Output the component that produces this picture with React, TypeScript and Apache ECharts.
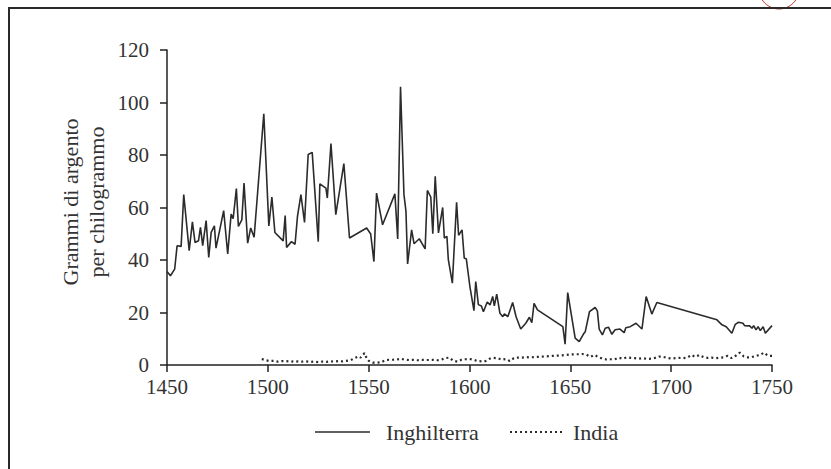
import React, { useEffect, useRef } from "react";
import * as echarts from "echarts";

const englandYears = [
  1450, 1451.7, 1453.8, 1455, 1457, 1458.3, 1461, 1462.6, 1463.9, 1465.6, 1466.6, 1467.7, 1469.4, 1470.7,
  1471.9, 1473.5, 1474.3, 1478.1, 1480.1, 1481.8, 1482.8, 1484.4, 1485.4, 1487.1, 1488.2, 1490, 1491.5,
  1493.2, 1498, 1500.5, 1502, 1503.5, 1507.6, 1508.6, 1509.3, 1511.7, 1513.5, 1514.7, 1516.4, 1518.2, 1520,
  1522, 1525, 1525.8, 1528.8, 1529.5, 1531.3, 1533.7, 1537.7, 1540.5, 1549, 1551, 1552.6, 1553.9, 1556.9,
  1563, 1564.4, 1565.8, 1567.5, 1568.5, 1569.3, 1571.3, 1572.5, 1575.1, 1578, 1579.1, 1580.8, 1581.8, 1583,
  1584.6, 1586.7, 1587.5, 1588.8, 1589.5, 1591.5, 1593.6, 1594.6, 1596.3, 1597.4, 1598.4, 1600.2, 1602.2,
  1603.1, 1604.4, 1605.9, 1606.9, 1608.8, 1610.2, 1611.5, 1612.3, 1613.5, 1615.1, 1616.5, 1617.3, 1619,
  1621.4, 1623.1, 1625.4, 1627.9, 1629.7, 1630.9, 1632, 1633.7, 1646.3, 1647.4, 1648.7, 1652.4, 1654.4,
  1656.5, 1657.4, 1659.5, 1662.3, 1663.4, 1664.3, 1665.9, 1667.3, 1668.9, 1670.6, 1672.2, 1674.6, 1676.7,
  1677.5, 1679.7, 1682.6, 1685.5, 1687.6, 1690.4, 1692.9, 1722.7, 1725.2, 1727.3, 1730.1, 1731.8, 1733.4,
  1735.6, 1736.4, 1738.9, 1740.1, 1740.9, 1742.1, 1743.1, 1744.2, 1745.6, 1746.7, 1750,
];
const englandValues = [
  35.6, 34, 36.5, 45.4, 45.2, 64.9, 43.6, 54.5, 46.7, 47.3, 52.4, 45.5, 55, 41,
  50.5, 53, 44.5, 58.8, 42.3, 57.5, 55.7, 67.2, 52.8, 55.3, 69.3, 46.4, 52.2,
  48.7, 95.7, 53, 64, 50.5, 47.3, 56.9, 44.8, 47, 46, 56.6, 64.9, 54.3, 80.2,
  81, 47, 69, 67.4, 63.6, 84.4, 57.3, 76.7, 48.4, 52.2, 49.9, 39.4, 65.5, 53.4,
  65.2, 48, 106, 64.9, 58.5, 38.5, 51.5, 46.2, 48.1, 44.2, 66.5, 64, 50, 71.9,
  50.3, 60, 48.4, 49, 40.1, 31.2, 62, 49.4, 51.5, 40.7, 40.5, 29.9, 20.7,
  31.8, 23, 22.5, 20.3, 24, 22.9, 26.1, 22.5, 27, 19.7, 18.4, 19.5, 18.4,
  23.8, 18.4, 13.7, 15.9, 18.2, 16.1, 23.5, 21, 14.6, 7.9, 27.6, 10.2, 8.9,
  11.8, 12.7, 20.3, 21.9, 20.6, 13.7, 11.5, 14, 14.4, 11.7, 13.4, 13.7, 12.3,
  14.2, 14.6, 15.9, 13.7, 26.1, 19.4, 23.8, 17.2, 15.3, 14.6, 12.1, 15.5, 16.3,
  15.9, 15, 14.9, 14, 15, 13.4, 14.6, 13.1, 14.6, 12.1, 15,
];

const indiaYears = [
  1497, 1499, 1501, 1503, 1505, 1507, 1509, 1511, 1513, 1515, 1517, 1519, 1521, 1523, 1525, 1527, 1529,
  1531, 1533, 1535, 1537, 1539, 1541, 1543, 1545, 1546, 1547, 1548, 1549, 1550, 1552, 1554, 1556, 1558,
  1560, 1562, 1564, 1566, 1568, 1570, 1572, 1574, 1576, 1578, 1580, 1582, 1584, 1586, 1588, 1590, 1592,
  1594, 1596, 1598, 1600, 1602, 1604, 1606, 1608, 1610, 1612, 1614, 1616, 1618, 1620, 1622, 1624, 1626,
  1628, 1630, 1632, 1634, 1636, 1638, 1640, 1642, 1644, 1646, 1648, 1650, 1652, 1654, 1656, 1658, 1660,
  1662, 1664, 1666, 1668, 1670, 1672, 1674, 1676, 1678, 1680, 1682, 1684, 1686, 1688, 1690, 1692, 1694,
  1696, 1698, 1700, 1702, 1704, 1706, 1708, 1710, 1712, 1714, 1716, 1718, 1720, 1722, 1724, 1726, 1728,
  1730, 1732, 1734, 1736, 1738, 1740, 1742, 1744, 1746, 1748, 1750,
];
const indiaValues = [
  2.3, 1.8, 1.5, 1.6, 1.3, 1.5, 1.4, 1.5, 1.2, 1.4, 1.3, 1.4, 1.2, 1.3, 1.1, 1.3, 1.2,
  1.4, 1.3, 1.5, 1.4, 1.6, 1.8, 2.6, 3.3, 2.8, 3.8, 4.5, 2.5, 1.6, 0.9, 0.9, 1.0, 1.7,
  2.0, 2.0, 2.1, 2.4, 2.0, 1.9, 2.0, 1.8, 2.0, 1.9, 1.9, 2.0, 1.8, 2.0, 2.6, 2.8, 1.6,
  1.3, 2.0, 2.2, 2.3, 2.0, 1.5, 1.4, 1.5, 2.4, 2.7, 2.6, 2.0, 2.3, 1.5, 2.6, 2.8, 2.8,
  3.0, 2.9, 3.0, 3.1, 3.2, 3.3, 3.4, 3.5, 3.6, 3.7, 3.8, 4.0, 4.1, 4.1, 4.2, 3.9, 3.1,
  3.8, 3.0, 2.4, 2.1, 2.2, 2.2, 2.8, 2.4, 2.9, 2.7, 2.6, 2.4, 2.6, 2.3, 2.4, 2.7, 3.2,
  3.1, 2.7, 2.5, 2.6, 2.7, 2.6, 2.8, 3.8, 3.1, 3.8, 3.0, 2.7, 2.8, 2.6, 2.8, 2.9, 3.5,
  2.6, 3.5, 4.7, 3.3, 2.9, 3.0, 3.5, 3.8, 4.7, 3.5, 3.5,
];

const seriesNames = ["Inghilterra", "India"];
const yAxisNameLines = ["Grammi di argento", "per chilogrammo"];

const FONT = "'Liberation Serif', 'Times New Roman', serif";
const TEXT = "#333";
const LINE = "#2b2b2b";
const INDIA_DASH = [2, 3];

export default function App() {
  const ref = useRef<HTMLDivElement>(null);
  useEffect(() => {
    if (!ref.current) return;
    const chart = echarts.init(ref.current, undefined, { renderer: "svg" });
    const eng = englandYears.map((y, i) => [y, englandValues[i]]);
    const ind = indiaYears.map((y, i) => [y, indiaValues[i]]);
    const legendY = 432;
    const nameText = (text: string, x: number) => ({
      type: "text",
      x,
      y: 202,
      rotation: Math.PI / 2,
      style: {
        text,
        fill: TEXT,
        fontFamily: FONT,
        fontSize: 22,
        align: "center",
        verticalAlign: "middle",
      },
    });
    chart.setOption({
      animation: false,
      backgroundColor: "#fff",
      grid: { left: 167, right: 59, top: 50, bottom: 104, outerBoundsMode: "none" },
      xAxis: {
        type: "value",
        min: 1450,
        max: 1750,
        interval: 50,
        axisLine: { show: true, lineStyle: { color: "#222", width: 1.5 } },
        axisTick: { show: true, length: 7, lineStyle: { color: "#222", width: 1.5 } },
        axisLabel: {
          margin: 11,
          color: TEXT,
          fontFamily: FONT,
          fontSize: 21,
          formatter: (v: number) => String(v),
        },
        splitLine: { show: false },
      },
      yAxis: {
        type: "value",
        min: 0,
        max: 120,
        interval: 20,
        axisLine: { show: true, lineStyle: { color: "#222", width: 1.5 } },
        axisTick: { show: true, length: 7, lineStyle: { color: "#222", width: 1.5 } },
        axisLabel: { margin: 18, color: TEXT, fontFamily: FONT, fontSize: 21 },
        splitLine: { show: false },
      },
      graphic: [
        {
          type: "circle",
          shape: { cx: 779, cy: -11, r: 20 },
          style: { fill: "none", stroke: "#c0392b", lineWidth: 1 },
          z: 10,
        },
        {
          type: "rect",
          shape: { x: 9, y: 8, width: 900, height: 600 },
          style: { fill: "none", stroke: "#2a2a2a", lineWidth: 2 },
          z: 11,
        },
        nameText(yAxisNameLines[0], 70),
        nameText(yAxisNameLines[1], 96),
        {
          type: "line",
          shape: { x1: 315, y1: legendY, x2: 370, y2: legendY },
          style: { stroke: LINE, lineWidth: 1.5 },
        },
        {
          type: "text",
          x: 386,
          y: legendY,
          style: {
            text: seriesNames[0],
            fill: TEXT,
            fontFamily: FONT,
            fontSize: 22,
            align: "left",
            verticalAlign: "middle",
          },
        },
        {
          type: "line",
          shape: { x1: 510, y1: legendY, x2: 565, y2: legendY },
          style: { stroke: LINE, lineWidth: 2.2, lineDash: INDIA_DASH },
        },
        {
          type: "text",
          x: 573,
          y: legendY,
          style: {
            text: seriesNames[1],
            fill: TEXT,
            fontFamily: FONT,
            fontSize: 22,
            align: "left",
            verticalAlign: "middle",
          },
        },
      ],
      series: [
        {
          name: seriesNames[0],
          type: "line",
          data: eng,
          symbol: "none",
          lineStyle: { color: LINE, width: 1.6 },
          itemStyle: { color: LINE },
        },
        {
          name: seriesNames[1],
          type: "line",
          data: ind,
          symbol: "none",
          lineStyle: { color: LINE, width: 2.2, type: INDIA_DASH },
          itemStyle: { color: LINE },
        },
      ],
    });
    return () => chart.dispose();
  }, []);
  return (
    <div
      ref={ref}
      style={{ position: "fixed", left: 0, top: 0, width: 831, height: 469 }}
    />
  );
}
